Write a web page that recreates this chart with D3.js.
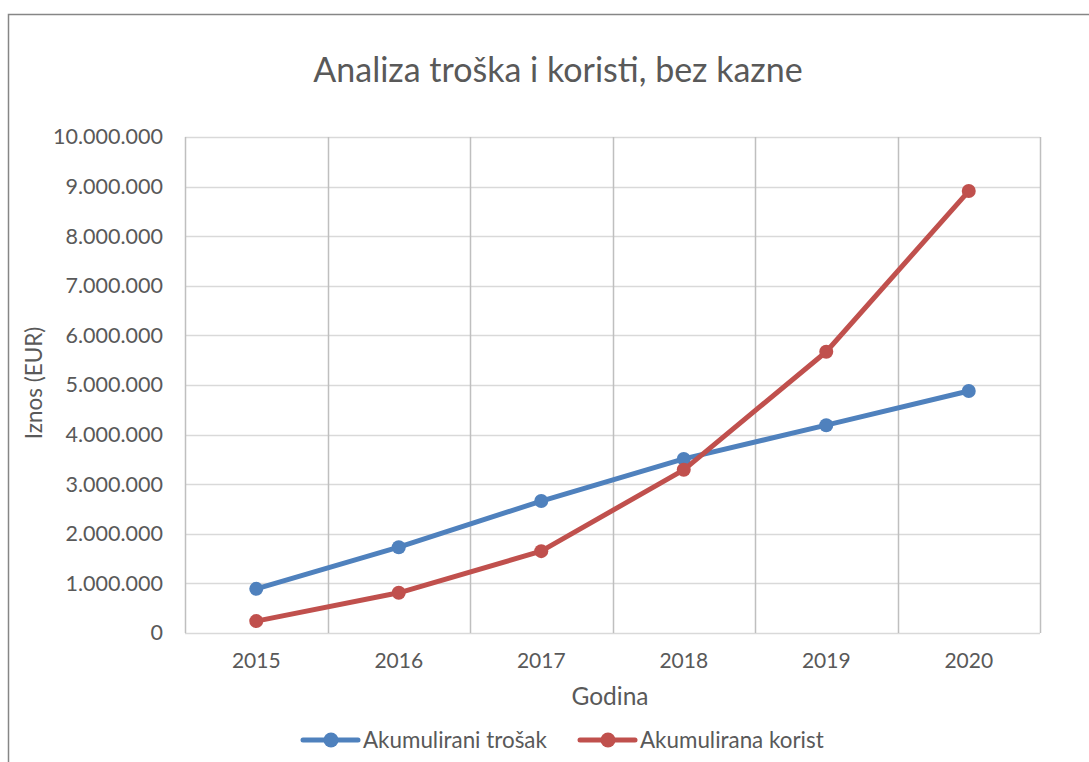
<!DOCTYPE html>
<html>
<head>
<meta charset="utf-8">
<script src="https://cdn.jsdelivr.net/npm/d3@7"></script>
<style>
  body { margin: 0; background: #fff; }
  text { font-family: Lato, "Open Sans", sans-serif; fill: #595959; }
</style>
</head>
<body>
<div id="chart"></div>
<script>
// chart data
var years = ["2015", "2016", "2017", "2018", "2019", "2020"];
var trosak = [890000, 1730000, 2660000, 3510000, 4190000, 4880000];
var korist = [240000, 810000, 1650000, 3290000, 5670000, 8910000];
var yTicks = [0, 1000000, 2000000, 3000000, 4000000, 5000000, 6000000, 7000000, 8000000, 9000000, 10000000];
var seriesNames = ["Akumulirani trošak", "Akumulirana korist"];
var seriesColors = ["#4f81bd", "#c0504d"];

var W = 1089, H = 762;
var margin = {top: 137, right: 49, bottom: 129, left: 185};
var width = W - margin.left - margin.right,
    height = H - margin.top - margin.bottom;

var svg = d3.select("#chart").append("svg")
    .attr("width", W)
    .attr("height", H);

// outer chart border
svg.append("rect")
    .attr("x", 8.5).attr("y", 14.5)
    .attr("width", W + 20).attr("height", H + 20)
    .attr("fill", "none")
    .attr("stroke", "#868686")
    .attr("stroke-width", 1.5);

var g = svg.append("g").attr("transform", "translate(" + margin.left + "," + margin.top + ")");

var x = d3.scaleBand().domain(years).range([0, width]);
var y = d3.scaleLinear().domain([0, 10000000]).range([height, 0]);

var fmt = function(v) {
  return v === 0 ? "0" : d3.format(",")(v).replace(/,/g, ".");
};

// horizontal grid
g.selectAll(".hgrid")
    .data(yTicks)
  .enter().append("line")
    .attr("x1", 0).attr("x2", width)
    .attr("y1", function(d) { return Math.round(y(d)) + 0.5; })
    .attr("y2", function(d) { return Math.round(y(d)) + 0.5; })
    .attr("stroke", "#d9d9d9")
    .attr("stroke-width", 1.5);

// vertical grid at category boundaries
var bounds = years.map(function(d) { return x(d); }).concat([width]);
g.selectAll(".vgrid")
    .data(bounds)
  .enter().append("line")
    .attr("x1", function(d) { return Math.round(d) + 0.5; })
    .attr("x2", function(d) { return Math.round(d) + 0.5; })
    .attr("y1", 0).attr("y2", height)
    .attr("stroke", "#bfbfbf")
    .attr("stroke-width", 1.5);

// y axis labels
var yAxis = g.append("g")
    .call(d3.axisLeft(y).tickValues(yTicks).tickFormat(fmt).tickSize(0).tickPadding(22));
yAxis.select(".domain").remove();
yAxis.selectAll("text")
    .style("font-family", "Lato, 'Open Sans', sans-serif")
    .style("font-size", "21.5px")
    .attr("fill", "#595959");

// x axis labels
var xAxis = g.append("g")
    .attr("transform", "translate(0," + height + ")")
    .call(d3.axisBottom(x).tickSize(0).tickPadding(20));
xAxis.select(".domain").remove();
xAxis.selectAll("text")
    .style("font-family", "Lato, 'Open Sans', sans-serif")
    .style("font-size", "21px")
    .attr("fill", "#595959");

// lines and markers
var line = d3.line()
    .x(function(d, i) { return x(years[i]) + x.bandwidth() / 2; })
    .y(function(d) { return y(d); });

[trosak, korist].forEach(function(data, k) {
  g.append("path")
      .datum(data)
      .attr("fill", "none")
      .attr("stroke", seriesColors[k])
      .attr("stroke-width", 5)
      .attr("stroke-linejoin", "round")
      .attr("d", line);
  g.selectAll(".dot" + k)
      .data(data)
    .enter().append("circle")
      .attr("r", 7)
      .attr("fill", seriesColors[k])
      .attr("cx", function(d, i) { return x(years[i]) + x.bandwidth() / 2; })
      .attr("cy", function(d) { return y(d); });
});

// title
svg.append("text")
    .attr("x", 558)
    .attr("y", 82)
    .attr("text-anchor", "middle")
    .style("font-size", "34px")
    .text("Analiza troška i koristi, bez kazne");

// axis titles
svg.append("text")
    .attr("x", 610)
    .attr("y", 705)
    .attr("text-anchor", "middle")
    .style("font-size", "24.5px")
    .text("Godina");

svg.append("text")
    .attr("transform", "translate(42," + (margin.top + height / 2 - 2) + ") rotate(-90)")
    .attr("text-anchor", "middle")
    .style("font-size", "22.5px")
    .text("Iznos (EUR)");

// legend
var legendX = [303, 580];
var leg = svg.selectAll(".legend")
    .data(seriesNames)
  .enter().append("g")
    .attr("transform", function(d, i) { return "translate(" + legendX[i] + ",740)"; });
leg.append("line")
    .attr("x1", 0).attr("x2", 55)
    .attr("stroke", function(d, i) { return seriesColors[i]; })
    .attr("stroke-width", 5)
    .attr("stroke-linecap", "round");
leg.append("circle")
    .attr("cx", 28).attr("r", 7.5)
    .attr("fill", function(d, i) { return seriesColors[i]; });
leg.append("text")
    .attr("x", 60).attr("y", 8)
    .style("font-size", "22.4px")
    .text(function(d) { return d; });
</script>
</body>
</html>
